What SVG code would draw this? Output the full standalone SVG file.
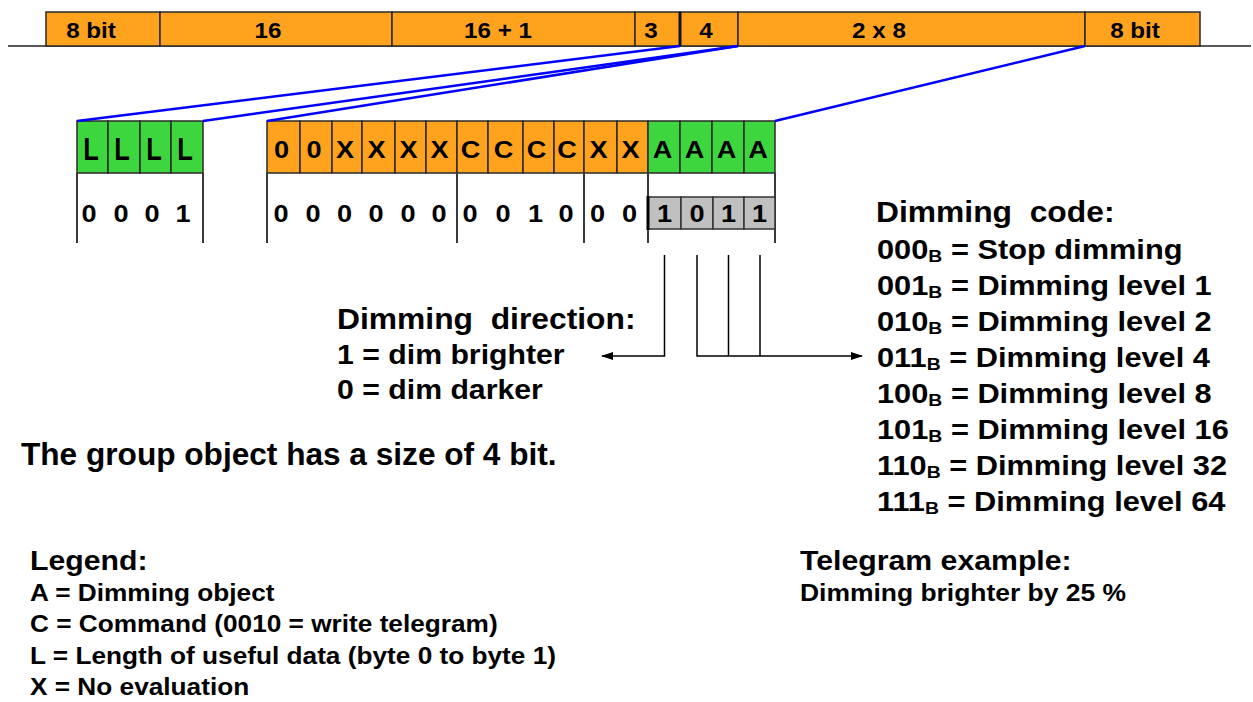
<svg xmlns="http://www.w3.org/2000/svg" width="1253" height="702" viewBox="0 0 1253 702">
<defs>
<style>
.t{font-family:"Liberation Sans",Arial,sans-serif;font-weight:bold;fill:#000}
.m{text-anchor:middle}
.bar{fill:#FFA31F;stroke:#2a2a2a;stroke-width:1.5}
.orange{fill:#FFA31F;stroke:#2a2a2a;stroke-width:1.5}
.green{fill:#3ED63E;stroke:#2a2a2a;stroke-width:1.5}
.gray{fill:#C0C0C0;stroke:#333;stroke-width:1.5}
.div{stroke:#3a3a3a;stroke-width:2;fill:none}
.blue{stroke:#0000FF;stroke-width:2.5;fill:none}
.conn{stroke:#000;stroke-width:1.5;fill:none}
</style>
<marker id="arr" markerWidth="12" markerHeight="10" refX="11" refY="5" orient="auto" markerUnits="userSpaceOnUse"><path d="M0,1 L12,5 L0,9 Z" fill="#000"/></marker>
</defs>
<rect width="1253" height="702" fill="#fff"/>

<g id="telegram-frame">
<line x1="8" y1="46" x2="1251" y2="46" stroke="#222" stroke-width="1.5"/>
<rect class="bar" x="46" y="12" width="114" height="34"/>
<rect class="bar" x="160" y="12" width="232" height="34"/>
<rect class="bar" x="392" y="12" width="243" height="34"/>
<rect class="bar" x="635" y="12" width="45" height="34"/>
<rect class="bar" x="680" y="12" width="58" height="34"/>
<rect class="bar" x="738" y="12" width="347" height="34"/>
<rect class="bar" x="1085" y="12" width="115" height="34"/>
<line x1="680" y1="12" x2="680" y2="46" stroke="#111" stroke-width="3"/>
<g class="t m" font-size="22">
<text transform="translate(91 37.5) scale(1.1 1)">8 bit</text>
<text transform="translate(268 37.5) scale(1.1 1)">16</text>
<text transform="translate(498 37.5) scale(1.1 1)">16 + 1</text>
<text transform="translate(651 37.5) scale(1.1 1)">3</text>
<text transform="translate(706 37.5) scale(1.1 1)">4</text>
<text transform="translate(879 37.5) scale(1.1 1)">2 x 8</text>
<text transform="translate(1135 37.5) scale(1.1 1)">8 bit</text>
</g>
</g>

<g id="length-field">
<rect class="green" x="77" y="121" width="31" height="52"/>
<rect class="green" x="108" y="121" width="32" height="52"/>
<rect class="green" x="140" y="121" width="31" height="52"/>
<rect class="green" x="171" y="121" width="32" height="52"/>
<line class="div" x1="77" y1="173" x2="77" y2="243"/>
<line class="div" x1="203" y1="173" x2="203" y2="243"/>
<g class="t m" font-size="32">
<text transform="translate(91 160) scale(0.8 1)">L</text>
<text transform="translate(122 160) scale(0.8 1)">L</text>
<text transform="translate(154 160) scale(0.8 1)">L</text>
<text transform="translate(185 160) scale(0.8 1)">L</text>
</g>
<g class="t m" font-size="23">
<text transform="translate(89 222) scale(1.18 1)">0</text>
<text transform="translate(121 222) scale(1.18 1)">0</text>
<text transform="translate(152 222) scale(1.18 1)">0</text>
<text transform="translate(183 222) scale(1.18 1)">1</text>
</g>
</g>

<g id="data-field">
<rect class="orange" x="267" y="121" width="33" height="52"/>
<rect class="orange" x="300" y="121" width="32" height="52"/>
<rect class="orange" x="332" y="121" width="30" height="52"/>
<rect class="orange" x="362" y="121" width="33" height="52"/>
<rect class="orange" x="395" y="121" width="31" height="52"/>
<rect class="orange" x="426" y="121" width="31" height="52"/>
<rect class="orange" x="457" y="121" width="31" height="52"/>
<rect class="orange" x="488" y="121" width="35" height="52"/>
<rect class="orange" x="523" y="121" width="31" height="52"/>
<rect class="orange" x="554" y="121" width="30" height="52"/>
<rect class="orange" x="584" y="121" width="33" height="52"/>
<rect class="orange" x="617" y="121" width="31" height="52"/>
<rect class="green" x="648" y="121" width="32" height="52"/>
<rect class="green" x="680" y="121" width="32" height="52"/>
<rect class="green" x="712" y="121" width="32" height="52"/>
<rect class="green" x="744" y="121" width="31" height="52"/>
<line class="div" x1="267" y1="173" x2="267" y2="243"/>
<line class="div" x1="457" y1="173" x2="457" y2="243"/>
<line class="div" x1="584" y1="173" x2="584" y2="243"/>
<line class="div" x1="648" y1="173" x2="648" y2="243"/>
<line class="div" x1="775" y1="173" x2="775" y2="243"/>
<g class="t m" font-size="23">
<text transform="translate(281.5 158) scale(1.18 1)">0</text>
<text transform="translate(314 158) scale(1.18 1)">0</text>
<text transform="translate(345 158) scale(1.18 1)">X</text>
<text transform="translate(376.5 158) scale(1.18 1)">X</text>
<text transform="translate(408.5 158) scale(1.18 1)">X</text>
<text transform="translate(439.5 158) scale(1.18 1)">X</text>
<text transform="translate(470.5 158) scale(1.18 1)">C</text>
<text transform="translate(503.5 158) scale(1.18 1)">C</text>
<text transform="translate(536.5 158) scale(1.18 1)">C</text>
<text transform="translate(567 158) scale(1.18 1)">C</text>
<text transform="translate(598.5 158) scale(1.18 1)">X</text>
<text transform="translate(630.5 158) scale(1.18 1)">X</text>
<text transform="translate(662.5 158) scale(1.18 1)">A</text>
<text transform="translate(694.5 158) scale(1.18 1)">A</text>
<text transform="translate(726.5 158) scale(1.18 1)">A</text>
<text transform="translate(758 158) scale(1.18 1)">A</text>
<text transform="translate(281 222) scale(1.18 1)">0</text>
<text transform="translate(313 222) scale(1.18 1)">0</text>
<text transform="translate(344.5 222) scale(1.18 1)">0</text>
<text transform="translate(376 222) scale(1.18 1)">0</text>
<text transform="translate(408 222) scale(1.18 1)">0</text>
<text transform="translate(439 222) scale(1.18 1)">0</text>
<text transform="translate(470 222) scale(1.18 1)">0</text>
<text transform="translate(503 222) scale(1.18 1)">0</text>
<text transform="translate(535.5 222) scale(1.18 1)">1</text>
<text transform="translate(566 222) scale(1.18 1)">0</text>
<text transform="translate(597.5 222) scale(1.18 1)">0</text>
<text transform="translate(629.5 222) scale(1.18 1)">0</text>
</g>
</g>

<g id="dimming-value">
<rect class="gray" x="648" y="197" width="33" height="32"/>
<rect class="gray" x="681" y="197" width="32" height="32"/>
<rect class="gray" x="713" y="197" width="31" height="32"/>
<rect class="gray" x="744" y="197" width="31" height="32"/>
<line x1="648" y1="196" x2="648" y2="230" stroke="#000" stroke-width="3"/>
<g class="t m" font-size="23">
<text transform="translate(664.5 222) scale(1.18 1)">1</text>
<text transform="translate(697 222) scale(1.18 1)">0</text>
<text transform="translate(728.5 222) scale(1.18 1)">1</text>
<text transform="translate(759.5 222) scale(1.18 1)">1</text>
</g>
</g>

<g id="connectors">
<line class="blue" x1="680" y1="46" x2="77" y2="121"/>
<line class="blue" x1="738" y1="46" x2="203" y2="121"/>
<line class="blue" x1="738" y1="46" x2="267" y2="121"/>
<line class="blue" x1="1085" y1="46" x2="775" y2="121"/>
<path class="conn" d="M664.5,255 V356 H602" marker-end="url(#arr)"/>
<path class="conn" d="M697,255 V356 H862" marker-end="url(#arr)"/>
<line class="conn" x1="728.5" y1="255" x2="728.5" y2="356"/>
<line class="conn" x1="760" y1="255" x2="760" y2="356"/>
</g>

<g id="dimming-direction">
<text class="t" font-size="30" xml:space="preserve" transform="translate(337 329) scale(1.06 1)">Dimming  direction:</text>
<text class="t" font-size="27" transform="translate(337 364) scale(1.12 1)">1 = dim brighter</text>
<text class="t" font-size="27" transform="translate(337 399) scale(1.12 1)">0 = dim darker</text>
</g>

<g id="dimming-code">
<text class="t" font-size="30" xml:space="preserve" transform="translate(876 222) scale(1.06 1)">Dimming  code:</text>
<g class="t" font-size="27">
<text transform="translate(877 259) scale(1.14 1)">000<tspan font-size="17" dy="3">B</tspan><tspan dy="-3"> = Stop dimming</tspan></text>
<text transform="translate(877 295) scale(1.14 1)">001<tspan font-size="17" dy="3">B</tspan><tspan dy="-3"> = Dimming level 1</tspan></text>
<text transform="translate(877 331) scale(1.14 1)">010<tspan font-size="17" dy="3">B</tspan><tspan dy="-3"> = Dimming level 2</tspan></text>
<text transform="translate(877 367) scale(1.14 1)">011<tspan font-size="17" dy="3">B</tspan><tspan dy="-3"> = Dimming level 4</tspan></text>
<text transform="translate(877 403) scale(1.14 1)">100<tspan font-size="17" dy="3">B</tspan><tspan dy="-3"> = Dimming level 8</tspan></text>
<text transform="translate(877 439) scale(1.14 1)">101<tspan font-size="17" dy="3">B</tspan><tspan dy="-3"> = Dimming level 16</tspan></text>
<text transform="translate(877 475) scale(1.14 1)">110<tspan font-size="17" dy="3">B</tspan><tspan dy="-3"> = Dimming level 32</tspan></text>
<text transform="translate(877 511) scale(1.14 1)">111<tspan font-size="17" dy="3">B</tspan><tspan dy="-3"> = Dimming level 64</tspan></text>
</g>
</g>

<g id="object-size">
<text class="t" font-size="31" transform="translate(21 465) scale(1.02 1)">The group object has a size of 4 bit.</text>
</g>

<g id="legend">
<text class="t" font-size="27" transform="translate(30 570) scale(1.12 1)">Legend:</text>
<g class="t" font-size="23">
<text transform="translate(30 601) scale(1.14 1)">A = Dimming object</text>
<text transform="translate(30 632) scale(1.14 1)">C = Command (0010 = write telegram)</text>
<text transform="translate(30 664) scale(1.14 1)">L = Length of useful data (byte 0 to byte 1)</text>
<text transform="translate(30 695) scale(1.14 1)">X = No evaluation</text>
</g>
</g>

<g id="telegram-example">
<text class="t" font-size="27" transform="translate(800 570) scale(1.12 1)">Telegram example:</text>
<text class="t" font-size="23" transform="translate(800 601) scale(1.15 1)">Dimming brighter by 25 %</text>
</g>
</svg>
